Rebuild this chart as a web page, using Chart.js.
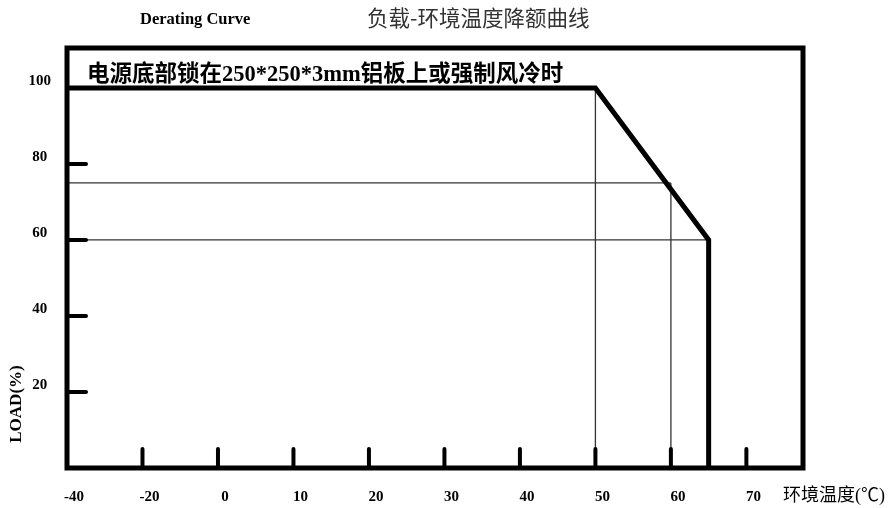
<!DOCTYPE html>
<html>
<head>
<meta charset="utf-8">
<script src="https://cdn.jsdelivr.net/npm/chart.js@4"></script>
<style>
  html, body { margin: 0; padding: 0; background: #fff; }
</style>
</head>
<body>
<canvas id="myChart" width="890" height="508"></canvas>
<script>
// Derating curve data (temperature in degC, load in %)
const curveTemp = [-40, 50, 65, 65];
const curveLoad = [100, 100, 60, 0];

// thin guide lines
const guideHLoad = [75, 60];      // horizontal guides at these loads
const guideHToTemp = [60, 65];    // ... running from the left edge to this temp
const guideVTemp = [50, 60];      // vertical guides at these temps
const guideVFromLoad = [100, 75]; // ... from this load down to 0

// axis ticks
const xTickTemps = [-40, -20, 0, 10, 20, 30, 40, 50, 60, 70];
const xTickLabels = ['-40', '-20', '0', '10', '20', '30', '40', '50', '60', '70'];
const xTickMarks = [-20, 0, 10, 20, 30, 40, 50, 60, 70];
const yTickValues = [20, 40, 60, 80, 100];
const yTickLabels = ['20', '40', '60', '80', '100'];
const yTickMarks = [20, 40, 60, 80];

// the original axis is squeezed below 0: -40 and -20 are one step apart each
function toAxis(t) {
    if (t < -20) return -20 + (t + 40) / 2;
    if (t < 0) return t / 2;
    return t;
}

const curveData = curveTemp.map((t, i) => ({ x: toAxis(t), y: curveLoad[i] }));

const guideSets = [];
guideHLoad.forEach((load, i) => {
    guideSets.push([{ x: toAxis(-40), y: load }, { x: toAxis(guideHToTemp[i]), y: load }]);
});
guideVTemp.forEach((t, i) => {
    guideSets.push([{ x: toAxis(t), y: guideVFromLoad[i] }, { x: toAxis(t), y: 0 }]);
});

const serif = "'Liberation Serif', 'Times New Roman', serif";

// frame, inward tick marks and the loose texts
const decor = {
    id: 'decor',
    afterDatasetsDraw(chart) {
        const ctx = chart.ctx;
        const a = chart.chartArea;
        const xs = chart.scales.x;
        const ys = chart.scales.y;
        ctx.save();

        // tick marks, drawn inside the plot
        ctx.strokeStyle = '#000';
        ctx.lineWidth = 4;
        ctx.lineCap = 'round';
        yTickMarks.forEach(v => {
            const py = ys.getPixelForValue(v);
            ctx.beginPath();
            ctx.moveTo(a.left, py);
            ctx.lineTo(a.left + 19, py);
            ctx.stroke();
        });
        xTickMarks.forEach(t => {
            const px = xs.getPixelForValue(toAxis(t));
            ctx.beginPath();
            ctx.moveTo(px, a.bottom);
            ctx.lineTo(px, a.bottom - 19);
            ctx.stroke();
        });

        // thick frame
        ctx.lineCap = 'butt';
        ctx.lineWidth = 5;
        ctx.strokeRect(a.left, a.top, a.right - a.left, a.bottom - a.top);

        // texts
        ctx.fillStyle = '#000';
        ctx.textBaseline = 'middle';
        ctx.textAlign = 'left';
        ctx.font = "bold 16.5px " + serif;
        ctx.fillText('Derating Curve', 140, 20);

        ctx.fillStyle = '#333';
        ctx.font = "21.5px 'Noto Sans CJK SC'";
        ctx.fillText('负载-环境温度降额曲线', 367, 18);

        ctx.fillStyle = '#000';
        ctx.font = "bold 22.5px " + serif + ", 'Noto Sans CJK SC'";
        ctx.fillText('电源底部锁在250*250*3mm铝板上或强制风冷时', a.left + 20, 75);

        ctx.font = "18px " + serif + ", 'Noto Sans CJK SC'";
        ctx.fillText('环境温度(℃)', 783, 496);

        ctx.translate(17, 404);
        ctx.rotate(-Math.PI / 2);
        ctx.textAlign = 'center';
        ctx.font = "bold 17px " + serif;
        ctx.fillText('LOAD(%)', 0, 0);
        ctx.restore();
    }
};

const ctx = document.getElementById('myChart').getContext('2d');

new Chart(ctx, {
    type: 'line',
    data: {
        datasets: [
            {
                data: curveData,
                borderColor: '#000',
                borderWidth: 5,
                borderJoinStyle: 'miter',
                pointRadius: 0,
                fill: false,
                order: 0
            },
            ...guideSets.map(pts => ({
                data: pts,
                borderColor: '#333',
                borderWidth: 1.3,
                pointRadius: 0,
                fill: false,
                order: 1
            }))
        ]
    },
    options: {
        responsive: false,
        animation: false,
        layout: { padding: { left: 0, top: 48, right: 87, bottom: 0 } },
        plugins: {
            legend: { display: false },
            tooltip: { enabled: false },
            title: { display: false }
        },
        scales: {
            x: {
                type: 'linear',
                min: -20,
                max: 77.5,
                afterFit(scale) { scale.height = 40; },
                afterBuildTicks(scale) {
                    scale.ticks = xTickTemps.map(t => ({ value: toAxis(t) }));
                },
                grid: { display: false, drawTicks: false },
                border: { display: false },
                ticks: {
                    autoSkip: false,
                    maxRotation: 0,
                    padding: 20,
                    labelOffset: 7,
                    color: '#000',
                    font: { family: serif, weight: 'bold', size: 15 },
                    callback: (v, i) => xTickLabels[i]
                }
            },
            y: {
                type: 'linear',
                min: 0,
                max: 110.5,
                afterFit(scale) { scale.width = 67; },
                afterBuildTicks(scale) {
                    scale.ticks = yTickValues.map(v => ({ value: v }));
                },
                grid: { display: false, drawTicks: false },
                border: { display: false },
                ticks: {
                    autoSkip: false,
                    padding: 16,
                    crossAlign: 'center',
                    labelOffset: -7,
                    color: '#000',
                    font: { family: serif, weight: 'bold', size: 15 },
                    callback: (v, i) => yTickLabels[i]
                }
            }
        }
    },
    plugins: [decor]
});
</script>
</body>
</html>
